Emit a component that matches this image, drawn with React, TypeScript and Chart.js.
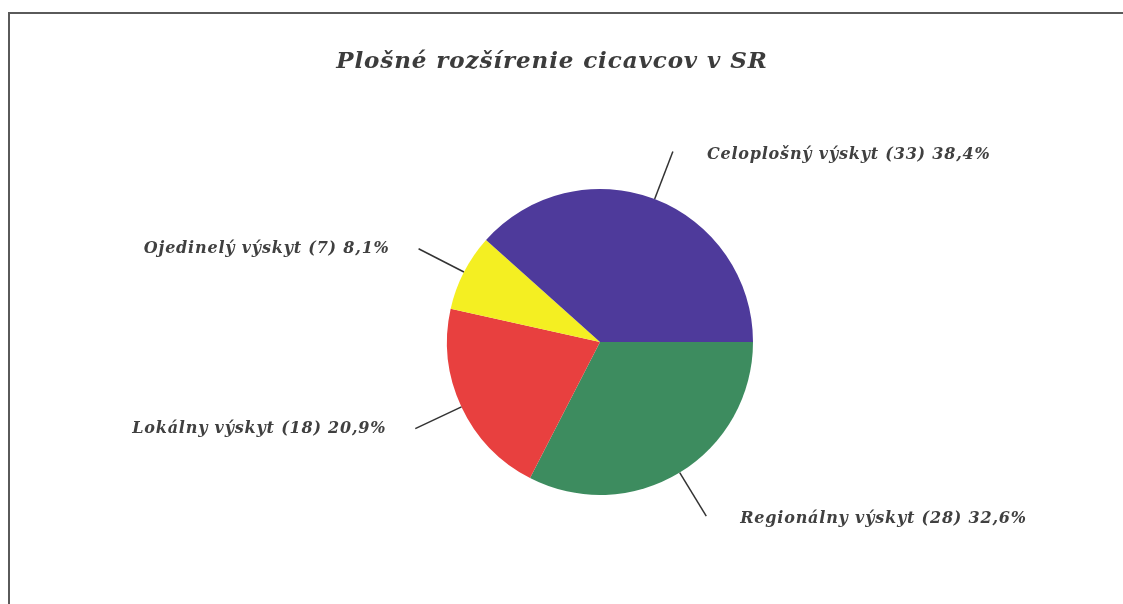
import React, { useEffect, useRef } from "react";
import { Chart, registerables } from "chart.js";

Chart.register(...registerables);

const titleText = "Plošné rozšírenie cicavcov v SR";
const categories = ["Regionálny výskyt", "Lokálny výskyt", "Ojedinelý výskyt", "Celoplošný výskyt"];
const counts = [28, 18, 7, 33];
const percentLabels = ["32,6%", "20,9%", "8,1%", "38,4%"];
const colors = ["#3d8c5f", "#e8403f", "#f4ef22", "#4e3a9b"];

const labelPlugin = {
  id: "pieLabels",
  beforeDraw(chart: any) {
    const ctx = chart.ctx;
    ctx.save();
    ctx.fillStyle = "#ffffff";
    ctx.fillRect(0, 0, chart.width, chart.height);
    ctx.strokeStyle = "#5a5a5a";
    ctx.lineWidth = 2;
    ctx.beginPath();
    ctx.moveTo(9, chart.height);
    ctx.lineTo(9, 13);
    ctx.lineTo(chart.width, 13);
    ctx.stroke();
    ctx.restore();
  },
  afterDraw(chart: any) {
    const ctx = chart.ctx;
    ctx.save();
    ctx.fillStyle = "#3c3c3c";
    ctx.font = "italic bold 23px 'DejaVu Serif'";
    (ctx as any).letterSpacing = "0.9px";
    ctx.textAlign = "center";
    ctx.textBaseline = "middle";
    ctx.fillText(titleText, 552, 62);

    const meta = chart.getDatasetMeta(0);
    ctx.font = "italic bold 16px 'DejaVu Serif'";
    (ctx as any).letterSpacing = "0.8px";
    meta.data.forEach((arc: any, i: number) => {
      const { x, y, startAngle, endAngle, outerRadius } = arc.getProps(
        ["x", "y", "startAngle", "endAngle", "outerRadius"],
        true
      );
      const mid = (startAngle + endAngle) / 2;
      const cos = Math.cos(mid);
      const sin = Math.sin(mid);
      const x1 = x + cos * outerRadius;
      const y1 = y + sin * outerRadius;
      const x2 = x + cos * (outerRadius + 51);
      const y2 = y + sin * (outerRadius + 51);
      ctx.strokeStyle = "#333333";
      ctx.lineWidth = 1.5;
      ctx.beginPath();
      ctx.moveTo(x1, y1);
      ctx.lineTo(x2, y2);
      ctx.stroke();
      const text = `${categories[i]} (${counts[i]}) ${percentLabels[i]}`;
      ctx.fillStyle = "#404040";
      ctx.textBaseline = "middle";
      if (cos >= 0) {
        ctx.textAlign = "left";
        ctx.fillText(text, x2 + 34, y2 + 3);
      } else {
        ctx.textAlign = "right";
        ctx.fillText(text, x2 - 29, y2);
      }
    });
    ctx.restore();
  },
};

export default function App() {
  const canvasRef = useRef<HTMLCanvasElement | null>(null);

  useEffect(() => {
    if (!canvasRef.current) return;
    const chart = new Chart(canvasRef.current, {
      type: "pie",
      data: {
        labels: categories,
        datasets: [
          {
            data: counts,
            backgroundColor: colors,
            borderWidth: 0,
          },
        ],
      },
      options: {
        responsive: false,
        maintainAspectRatio: false,
        animation: false,
        rotation: 90,
        layout: { padding: { top: 189, bottom: 109, left: 447, right: 370 } },
        plugins: {
          legend: { display: false },
          title: { display: false },
          tooltip: { enabled: false },
        },
      },
      plugins: [labelPlugin],
    });
    return () => chart.destroy();
  }, []);

  return (
    <div style={{ position: "fixed", left: 0, top: 0, width: 1123, height: 604, background: "#fff" }}>
      <canvas ref={canvasRef} width={1123} height={604} style={{ display: "block" }} />
    </div>
  );
}
